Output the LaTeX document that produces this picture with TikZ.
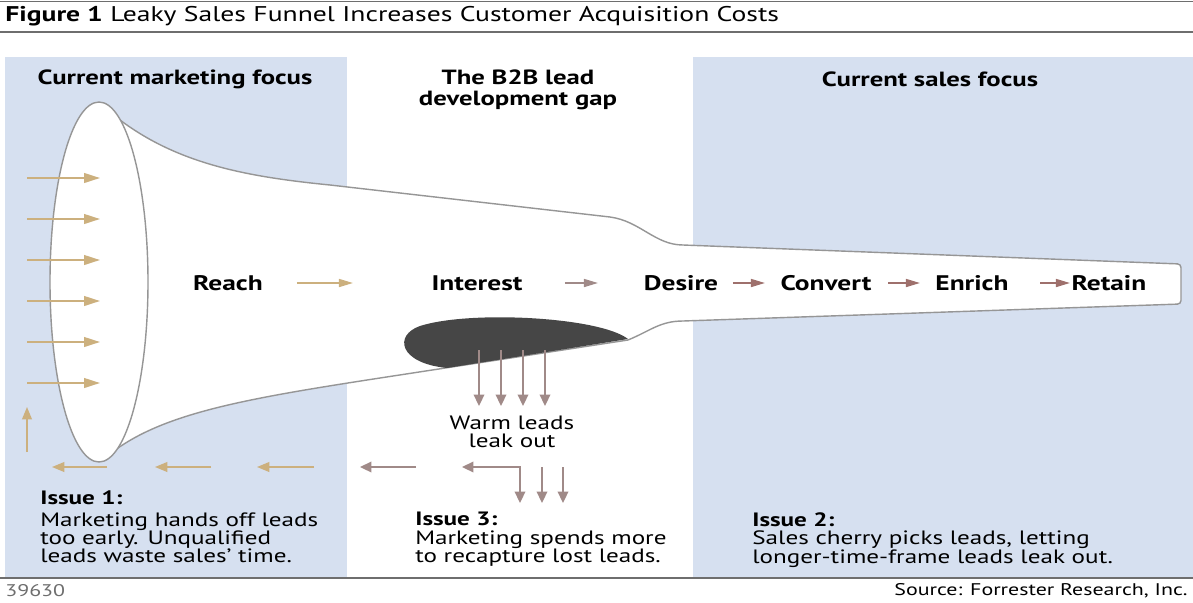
\documentclass[tikz,border=0pt]{standalone}
\usepackage{fontspec}
\setmainfont{PT Sans}[FakeStretch=1.3]
\usepackage{tikz}
\usetikzlibrary{arrows.meta}

\definecolor{panelblue}{RGB}{214,224,240}
\definecolor{funnelgray}{RGB}{150,150,150}
\definecolor{blobgray}{RGB}{70,70,70}
\definecolor{arrowtan}{RGB}{204,176,126}
\definecolor{arrowmauve}{RGB}{160,138,136}
\definecolor{arrowred}{RGB}{158,112,108}
\definecolor{rulegray}{RGB}{110,110,110}

\begin{document}
\begin{tikzpicture}[
    x=0.02cm, y=-0.02cm,
    every node/.style = {
      inner sep=0pt,
      font=\fontsize{11}{10.5}\selectfont
    },
    heading/.style = {
      font=\fontsize{11.7}{12}\selectfont\bfseries,
      align=center
    },
    stage/.style = {
      font=\fontsize{12}{12}\selectfont\bfseries
    },
    issue/.style = {
      anchor=north west,
      align=left
    },
    footer/.style = {
      font=\fontsize{9.6}{10}\selectfont
    },
    funnel/.style = {
      draw=funnelgray,
      line width=0.8pt,
      fill=white
    },
    inarrow/.style = {
      draw=arrowtan,
      line width=1pt,
      -{Triangle[length=9pt, width=5.5pt]}
    },
    backarrow/.style = {
      draw=arrowtan,
      line width=1pt,
      -{Triangle[length=7pt, width=5.5pt]}
    },
    stagearrow/.style = {
      draw=#1,
      line width=1pt,
      -{Triangle[length=8pt, width=4.5pt]}
    },
    leakarrow/.style = {
      draw=arrowmauve,
      line width=1pt,
      -{Triangle[length=6.5pt, width=6pt]}
    }
  ]

    % Page and rules
    \fill[white] (0,0) rectangle (1193,602);
    \useasboundingbox (0,0) rectangle (1193,602);
    \draw[rulegray, line width=0.4pt] (0,1) -- (1193,1);
    \draw[rulegray, line width=0.8pt] (0,32) -- (1193,32);
    \draw[rulegray, line width=1.5pt] (0,578) -- (1193,578);

    % Title and footer
    \node[anchor=west, font=\fontsize{12.1}{13}\selectfont] (title) at (5,16)
      {\textbf{Figure 1} Leaky Sales Funnel Increases Customer Acquisition Costs};
    \node[footer, anchor=west, text=rulegray] (jobno) at (5,591) {39630};
    \node[footer, anchor=east] (source) at (1188,591) {Source: Forrester Research, Inc.};

    % Blue panels
    \fill[panelblue] (5,57) rectangle (347,577);
    \fill[panelblue] (693,57) rectangle (1193,577);

    % Panel headings
    \node[heading] (mktfocus)   at (175,79) {Current marketing focus};
    \node[heading] (gap)        at (518,90) {The B2B lead\\development gap};
    \node[heading] (salesfocus) at (930,79) {Current sales focus};

    % Funnel body
    \draw[funnel] (120,120) .. controls (180,165) and (250,177) .. (330,185)
      -- (610,217) .. controls (640,221) and (655,245) .. (683,245)
      [rounded corners=2pt] -- (1181,264) -- (1181,304) [sharp corners]
      -- (683,321) .. controls (660,321) and (650,331) .. (628,340)
      -- (380,378) .. controls (250,398) and (170,412) .. (118,448) -- cycle;
    \draw[funnel] (99,282) ellipse [x radius=49, y radius=180];

    % Leak
    \fill[blobgray] (628,339) .. controls (600,317) and (470,310) .. (420,326)
      .. controls (394,335) and (398,363) .. (447,368) -- cycle;

    % Stages
    \node[stage] (reach)    at (228,283) {Reach};
    \node[stage] (interest) at (477,283) {Interest};
    \node[stage] (desire)   at (681,283) {Desire};
    \node[stage] (convert)  at (826,283) {Convert};
    \node[stage] (enrich)   at (972,283) {Enrich};
    \node[stage] (retain)   at (1109,283) {Retain};

    \draw[stagearrow=arrowtan, shorten <=1.38cm, shorten >=2.48cm]
      (reach.center) -- (interest.center);
    \draw[stagearrow=arrowmauve, shorten <=1.76cm, shorten >=1.66cm]
      (interest.center) -- (desire.center);
    \draw[stagearrow=arrowred, shorten <=1.04cm, shorten >=1.22cm]
      (desire.center) -- (convert.center);
    \draw[stagearrow=arrowred, shorten <=1.24cm, shorten >=1.04cm]
      (convert.center) -- (enrich.center);
    \draw[stagearrow=arrowred, shorten <=1.36cm, shorten >=0.78cm]
      (enrich.center) -- (retain.center);

    % Leads going in
    \foreach \y [count=\i] in {178,219,260,301,342,383} {
      \coordinate (src\i) at (27,\y);
      \coordinate (mouth\i) at (100,\y);
      \draw[inarrow] (src\i) -- (mouth\i);
    }
    \coordinate (upfrom) at (27,452);
    \coordinate (upto) at (27,407);
    \draw[backarrow] (upfrom) -- (upto);

    % Leads coming back
    \foreach \a/\b [count=\i] in {107/52, 211/155, 314/257} {
      \coordinate (back\i) at (\a,467);
      \coordinate (backto\i) at (\b,467);
      \draw[backarrow] (back\i) -- (backto\i);
    }
    \coordinate (recap) at (416,467);
    \coordinate (recapto) at (360,467);
    \draw[leakarrow] (recap) -- (recapto);

    % Warm leads leaking out
    \foreach \x [count=\i] in {479,501,523,545} {
      \coordinate (leak\i) at (\x,350);
      \coordinate (drop\i) at (\x,406);
      \draw[leakarrow] (leak\i) -- (drop\i);
    }
    \node[align=center] (warm) at (512,432) {Warm leads\\leak out};

    \coordinate (corner) at (520,467);
    \coordinate (cornerleft) at (462,467);
    \coordinate (cornerdown) at (520,503);
    \draw[leakarrow, {Triangle[length=6.5pt, width=6pt]}-{Triangle[length=6.5pt, width=6pt]}]
      (cornerleft) -- (corner) -- (cornerdown);
    \foreach \x [count=\i] in {542,563} {
      \coordinate (lost\i) at (\x,467);
      \coordinate (lostto\i) at (\x,503);
      \draw[leakarrow] (lost\i) -- (lostto\i);
    }

    % Issues
    \node[issue] (issue1) at (40,490)
      {\textbf{Issue 1:}\\[2pt]Marketing hands off leads\\too early. Unqualified\\leads waste sales’ time.};
    \node[issue] (issue3) at (415,512)
      {\textbf{Issue 3:}\\Marketing spends more\\to recapture lost leads.};
    \node[issue] (issue2) at (752,512)
      {\textbf{Issue 2:}\\Sales cherry picks leads, letting\\longer-time-frame leads leak out.};

  \end{tikzpicture}
\end{document}
